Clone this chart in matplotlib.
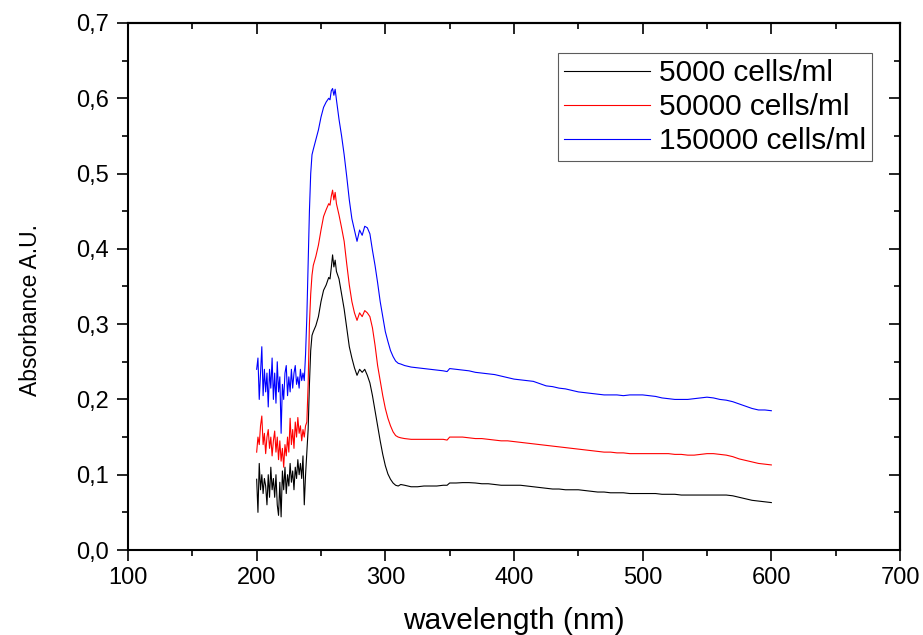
import matplotlib
matplotlib.use("Agg")
import matplotlib.pyplot as plt
from matplotlib.ticker import MultipleLocator, FuncFormatter

plt.rcParams['font.family'] = ['Liberation Sans', 'DejaVu Sans']

# ---- data ----
wl_noise = [200, 201, 202, 203, 204, 205, 206, 207, 208, 209,
            210, 211, 212, 213, 214, 215, 216, 217, 218, 219,
            220, 221, 222, 223, 224, 225, 226, 227, 228, 229,
            230, 231, 232, 233, 234, 235, 236, 237, 238]
wl_peak = [239, 240, 241, 242, 243, 244, 246, 248, 250, 252, 254, 256,
           257, 258, 259, 260, 261, 262, 264, 266, 268, 270, 272, 274,
           276, 278, 280, 282, 284, 286, 288, 290, 292, 294, 296, 298,
           300, 302, 304, 306, 308, 310]
wl_flat = [312, 315, 320, 325, 330, 335, 340, 345, 348,
           350, 355, 360, 365, 370, 375, 380, 385, 390, 395, 400,
           405, 410, 415, 420, 425, 430, 435, 440, 445, 450,
           455, 460, 465, 470, 475, 480, 485, 490, 495, 500,
           505, 510, 515, 520, 525, 530, 535, 540, 545, 550,
           555, 560, 565, 570, 575, 580, 585, 590, 595, 600]

c5000_noise = [0.094, 0.050, 0.115, 0.080, 0.100, 0.075, 0.095, 0.085, 0.060, 0.100,
               0.070, 0.110, 0.080, 0.095, 0.070, 0.100, 0.060, 0.046, 0.090, 0.044,
               0.105, 0.080, 0.110, 0.075, 0.100, 0.085, 0.115, 0.090, 0.105, 0.080,
               0.110, 0.095, 0.120, 0.100, 0.115, 0.095, 0.125, 0.060, 0.100]
c5000_peak = [0.130, 0.160, 0.220, 0.265, 0.285, 0.290, 0.298, 0.310, 0.330, 0.345, 0.352, 0.362,
              0.360, 0.375, 0.392, 0.376, 0.385, 0.370, 0.360, 0.340, 0.320, 0.295, 0.270, 0.255,
              0.242, 0.232, 0.240, 0.236, 0.240, 0.232, 0.222, 0.205, 0.185, 0.165, 0.145, 0.127,
              0.112, 0.101, 0.094, 0.089, 0.086, 0.085]
c5000_flat = [0.087, 0.086, 0.084, 0.084, 0.085, 0.085, 0.085, 0.086, 0.086,
              0.089, 0.089, 0.0895, 0.0895, 0.089, 0.088, 0.088, 0.087, 0.086, 0.086, 0.086,
              0.086, 0.085, 0.084, 0.083, 0.082, 0.081, 0.081, 0.080, 0.080, 0.080,
              0.079, 0.078, 0.077, 0.077, 0.076, 0.076, 0.076, 0.075, 0.075, 0.075,
              0.075, 0.075, 0.074, 0.074, 0.074, 0.073, 0.073, 0.073, 0.073, 0.073,
              0.073, 0.073, 0.073, 0.072, 0.070, 0.068, 0.066, 0.065, 0.064, 0.063]

c50000_noise = [0.130, 0.150, 0.140, 0.165, 0.178, 0.140, 0.155, 0.128, 0.150, 0.160,
                0.135, 0.150, 0.125, 0.145, 0.158, 0.130, 0.150, 0.120, 0.145, 0.118,
                0.135, 0.110, 0.140, 0.125, 0.150, 0.130, 0.175, 0.140, 0.160, 0.135,
                0.170, 0.150, 0.176, 0.155, 0.165, 0.145, 0.160, 0.150, 0.165]
c50000_peak = [0.170, 0.220, 0.300, 0.340, 0.365, 0.378, 0.390, 0.405, 0.425, 0.443, 0.452, 0.460,
               0.458, 0.470, 0.478, 0.465, 0.475, 0.460, 0.445, 0.428, 0.410, 0.380, 0.352, 0.330,
               0.315, 0.305, 0.315, 0.310, 0.318, 0.315, 0.310, 0.295, 0.272, 0.245, 0.225, 0.205,
               0.188, 0.175, 0.165, 0.157, 0.152, 0.150]
c50000_flat = [0.149, 0.148, 0.147, 0.147, 0.147, 0.147, 0.147, 0.147, 0.146,
               0.150, 0.150, 0.150, 0.149, 0.148, 0.148, 0.147, 0.146, 0.145, 0.145, 0.144,
               0.143, 0.142, 0.141, 0.140, 0.139, 0.138, 0.137, 0.136, 0.135, 0.134,
               0.133, 0.132, 0.131, 0.130, 0.130, 0.129, 0.129, 0.128, 0.128, 0.128,
               0.128, 0.128, 0.128, 0.128, 0.127, 0.127, 0.126, 0.126, 0.127, 0.128,
               0.128, 0.127, 0.126, 0.124, 0.121, 0.119, 0.117, 0.115, 0.114, 0.113]

c150000_noise = [0.240, 0.255, 0.200, 0.235, 0.270, 0.205, 0.240, 0.210, 0.235, 0.190,
                 0.240, 0.215, 0.255, 0.200, 0.235, 0.195, 0.250, 0.210, 0.230, 0.155,
                 0.220, 0.200, 0.235, 0.245, 0.205, 0.230, 0.210, 0.240, 0.215, 0.235,
                 0.245, 0.220, 0.230, 0.215, 0.240, 0.225, 0.235, 0.225, 0.260]
c150000_peak = [0.310, 0.380, 0.450, 0.500, 0.525, 0.532, 0.545, 0.558, 0.575, 0.588, 0.595, 0.600,
                0.598, 0.610, 0.613, 0.604, 0.612, 0.598, 0.572, 0.550, 0.525, 0.496, 0.465, 0.440,
                0.425, 0.410, 0.425, 0.418, 0.430, 0.428, 0.420, 0.398, 0.378, 0.355, 0.330, 0.310,
                0.290, 0.277, 0.265, 0.257, 0.251, 0.248]
c150000_flat = [0.247, 0.245, 0.243, 0.242, 0.241, 0.240, 0.239, 0.238, 0.237,
                0.241, 0.240, 0.239, 0.238, 0.236, 0.235, 0.234, 0.233, 0.231, 0.229, 0.227,
                0.226, 0.225, 0.224, 0.221, 0.218, 0.217, 0.215, 0.214, 0.212, 0.210,
                0.209, 0.208, 0.207, 0.206, 0.206, 0.206, 0.205, 0.206, 0.206, 0.206,
                0.205, 0.204, 0.202, 0.201, 0.200, 0.200, 0.200, 0.201, 0.202, 0.203,
                0.202, 0.200, 0.199, 0.197, 0.194, 0.191, 0.188, 0.186, 0.186, 0.185]

labels = ["5000 cells/ml", "50000 cells/ml", "150000 cells/ml"]
colors = ["#000000", "#ff0000", "#0000ff"]

wavelength = wl_noise + wl_peak + wl_flat
series = [c5000_noise + c5000_peak + c5000_flat,
          c50000_noise + c50000_peak + c50000_flat,
          c150000_noise + c150000_peak + c150000_flat]

# ---- figure ----
W, H = 923, 635
fig = plt.figure(figsize=(W / 100, H / 100), dpi=100)
ax = fig.add_axes([128 / W, (H - 550) / H, 772 / W, 527 / H])

for y, lab, col in zip(series, labels, colors):
    ax.plot(wavelength, y, color=col, lw=0.8, label=lab)

ax.set_xlim(100, 700)
ax.set_ylim(0, 0.7)
ax.xaxis.set_major_locator(MultipleLocator(100))
ax.xaxis.set_minor_locator(MultipleLocator(50))
ax.yaxis.set_major_locator(MultipleLocator(0.1))
ax.yaxis.set_minor_locator(MultipleLocator(0.05))
ax.yaxis.set_major_formatter(FuncFormatter(lambda v, p: f"{v:.1f}".replace('.', ',')))

for s in ax.spines.values():
    s.set_linewidth(1.5)

ax.tick_params(which='both', direction='out', width=1.2, labelsize=17,
               top=False, right=False)
ax.tick_params(which='major', length=8)
ax.tick_params(which='minor', length=4)
ax.tick_params(axis='x', pad=4)
ax.tick_params(axis='y', pad=6)

# inward ticks on top and right
secx = ax.secondary_xaxis('top')
secx.xaxis.set_major_locator(MultipleLocator(100))
secx.xaxis.set_minor_locator(MultipleLocator(50))
secx.tick_params(which='both', direction='in', width=1.2, labeltop=False)
secx.tick_params(which='major', length=8)
secx.tick_params(which='minor', length=4)
secx.spines['top'].set_linewidth(1.5)

secy = ax.secondary_yaxis('right')
secy.yaxis.set_major_locator(MultipleLocator(0.1))
secy.yaxis.set_minor_locator(MultipleLocator(0.05))
secy.tick_params(which='both', direction='in', width=1.2, labelright=False)
secy.tick_params(which='major', length=8)
secy.tick_params(which='minor', length=4)
secy.spines['right'].set_linewidth(1.5)

ax.set_xlabel("wavelength (nm)", fontsize=21.5)
ax.xaxis.set_label_coords(0.5, -0.108)
ax.set_ylabel("Absorbance A.U.", fontsize=16.5)
ax.yaxis.set_label_coords(-0.112, 0.455)

leg = ax.legend(loc='upper right', bbox_to_anchor=(0.964, 0.943), borderaxespad=0,
                fontsize=21.5, frameon=True, fancybox=False, handlelength=2.9,
                handletextpad=0.3, labelspacing=0.2, borderpad=0.2)
leg.get_frame().set_edgecolor('#333333')
leg.get_frame().set_linewidth(0.8)

fig.savefig("out.png", dpi=100)
